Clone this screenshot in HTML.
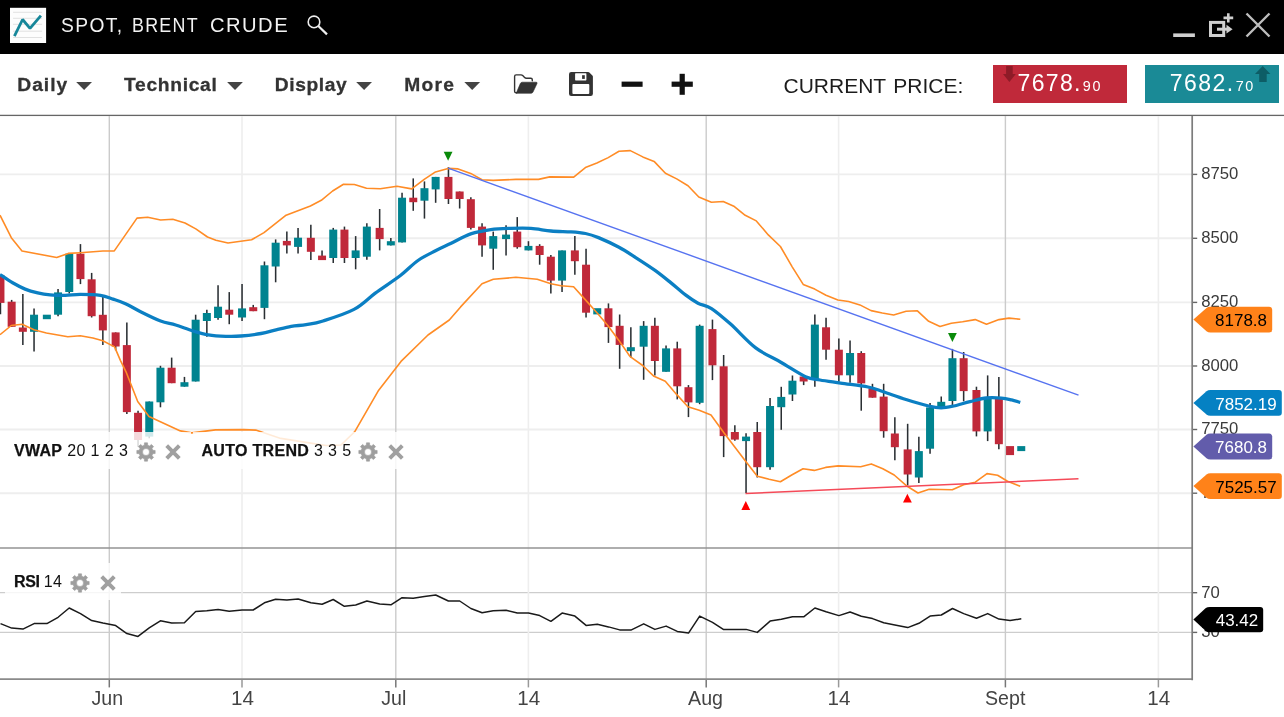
<!DOCTYPE html>
<html><head><meta charset="utf-8"><title>SPOT, BRENT CRUDE</title>
<style>
html,body{margin:0;padding:0;background:#fff;}
body{width:1284px;height:717px;overflow:hidden;position:relative;font-family:"Liberation Sans",sans-serif;}
#hdr{position:absolute;left:0;top:0;width:1284px;height:54px;background:#000;}
#title{position:absolute;left:0;top:12px;color:#f2f2f2;font-size:21px;line-height:26px;white-space:nowrap;}
#title .w{position:absolute;top:0;display:inline-block;transform-origin:0 50%;letter-spacing:1.5px;}
#tb{position:absolute;left:0;top:54px;width:1284px;height:61px;background:#fff;}
.mi{position:absolute;top:20.4px;-webkit-text-stroke:0.3px #333;font-weight:bold;font-size:19.2px;line-height:22px;color:#333;white-space:nowrap;letter-spacing:0.45px;}
#cp{position:absolute;left:783.5px;top:19px;font-size:21px;line-height:26px;letter-spacing:0;word-spacing:1.6px;color:#1c1c1c;white-space:nowrap;}
.pb{position:absolute;top:11.2px;height:37.6px;color:#fff;white-space:nowrap;}
.pb .big{position:absolute;top:2.8px;font-size:23px;line-height:30px;letter-spacing:1.35px;}
.pb .sm{font-size:14.4px;letter-spacing:1.6px;margin-left:1px;}
#chart{position:absolute;left:0;top:0;}
.ax{font:15.6px "Liberation Sans",sans-serif;fill:#3a3a3a;}
.xl{font:19.6px "Liberation Sans",sans-serif;fill:#444;}
.pl{font:15.8px "Liberation Sans",sans-serif;}
.lg{position:absolute;height:37px;background:rgba(255,255,255,0.82);font-size:16px;line-height:37px;color:#111;white-space:nowrap;}
.lg b{font-weight:bold;letter-spacing:0.3px;-webkit-text-stroke:0.25px #111;}
.lg i{font-style:normal;letter-spacing:0.4px;}
.lg span{position:absolute;top:0;}
.lg .ic{position:absolute;}
</style></head><body>
<div id="hdr">
<svg style="position:absolute;left:0;top:0" width="1284" height="54" viewBox="0 0 1284 54">
<rect x="10" y="7.800" width="36.100" height="35.200" fill="#fdfdfd"/>
<g stroke="#dedede" stroke-width="0.900"><line x1="13.100" y1="12.300" x2="42.100" y2="12.300"/><line x1="13.100" y1="18.300" x2="42.100" y2="18.300"/><line x1="13.100" y1="24.300" x2="42.100" y2="24.300"/><line x1="13.100" y1="31.200" x2="42.100" y2="31.200"/><line x1="13.100" y1="37.500" x2="42.100" y2="37.500"/></g>
<polyline points="14.400,36.200 22.600,19.500 30,28.400 40.900,15.600" fill="none" stroke="#17879a" stroke-width="2.800" stroke-linejoin="bevel"/>
<circle cx="314" cy="21.900" r="5.800" fill="none" stroke="#eee" stroke-width="1.600"/>
<line x1="318.300" y1="26" x2="327" y2="34.400" stroke="#eee" stroke-width="2.200"/>
<rect x="1173.200" y="33.400" width="21.700" height="3.600" fill="#cfcfcf"/>
<rect x="1210.500" y="22.400" width="13.200" height="13.100" fill="none" stroke="#cfcfcf" stroke-width="3"/>
<path d="M1217 29.200H1227" stroke="#cfcfcf" stroke-width="3" fill="none"/>
<polygon points="1226.500,24.800 1232.600,29.200 1226.500,33.600" fill="#cfcfcf"/>
<path d="M1223.500 17.900H1233.200M1228.300 13.200V22.600" stroke="#cfcfcf" stroke-width="2.600" fill="none"/>
<path d="M1246.500 13.500L1269.500 36.500M1269.500 13.500L1246.500 36.500" stroke="#bdbdbd" stroke-width="2.400" fill="none"/>
</svg>
<div id="title"><span class="w" style="left:61.300px;transform:scaleX(0.915)">SPOT,</span> <span class="w" style="left:132.300px;transform:scaleX(0.850)">BRENT</span> <span class="w" style="left:209.600px;transform:scaleX(0.962)">CRUDE</span></div>
</div>
<div id="tb">
<div class="mi" style="left:17.300px;letter-spacing:1px">Daily</div>
<div class="mi" style="left:124px;letter-spacing:0.720px">Technical</div>
<div class="mi" style="left:274.800px;letter-spacing:0.620px">Display</div>
<div class="mi" style="left:404.300px;letter-spacing:1.250px">More</div>
<svg style="position:absolute;left:0;top:0" width="760" height="61" viewBox="0 54 760 61">
<path d="M516.800 92.700Q514.600 93.200 514.600 91V76.400Q514.600 74.900 516.100 74.900H521Q522 74.900 522.700 75.600L524.600 77.500Q525.300 78.200 526.300 78.200H530.800Q532.300 78.200 532.300 79.700V80.800" fill="none" stroke="#333" stroke-width="1.400" stroke-linecap="round"/>
<path d="M516.200 93.300L520.300 83.600Q520.900 82.200 522.400 82.200H536Q537.600 82.200 537 83.600L533 92Q532.400 93.300 531 93.300Z" fill="#333" stroke="#333" stroke-width="0.600" stroke-linejoin="round"/>
<path d="M569 74.300Q569 72.100 571.200 72.100H588.200Q588.900 72.100 589.400 72.600L592.400 75.600Q592.900 76.100 592.900 76.800V93.800Q592.900 96 590.700 96H571.200Q569 96 569 93.800Z" fill="#333"/>
<rect x="572.400" y="84.100" width="16.900" height="9.800" rx="1" fill="#fff"/>
<rect x="575.100" y="73.200" width="11.300" height="7.200" rx="0.600" fill="#fff"/>
<rect x="582.100" y="75.200" width="2.700" height="3.700" fill="#333"/>
<polygon points="76.2,82 92.0,82 84.1,90" fill="#444"/><polygon points="227.1,82 242.9,82 235.0,90" fill="#444"/><polygon points="356.2,82 372.0,82 364.1,90" fill="#444"/><polygon points="464.3,82 480.1,82 472.2,90" fill="#444"/>
<rect x="621.600" y="81.600" width="21" height="5.200" fill="#111"/>
<rect x="671.600" y="81.600" width="21.200" height="5.200" fill="#111"/>
<rect x="679.600" y="73.800" width="5.200" height="21" fill="#111"/>
</svg>
<div id="cp">CURRENT PRICE:</div>
<div class="pb" style="left:993px;width:133.700px;background:#c0293a">
<svg style="position:absolute;left:9.700px;top:0.600px" width="13" height="16" viewBox="0 0 13 16"><path d="M3.100 0H9.700V8H12.800L6.400 15.900L0 8H3.100Z" fill="#8e1b27"/></svg>
<span class="big" style="left:24.500px">7678.<span class="sm">90</span></span></div>
<div class="pb" style="left:1145.200px;width:134px;background:#1a8a96">
<svg style="position:absolute;left:110.300px;top:0.600px" width="16" height="16" viewBox="0 0 16 16"><path d="M7.700 0L15.400 7.900H11.700V15.900H4.200V7.900H0Z" fill="#0d5d66"/></svg>
<span class="big" style="left:24.500px;letter-spacing:1.5px">7682.<span class="sm">70</span></span></div>
</div>
<svg id="chart" width="1284" height="717" viewBox="0 0 1284 717">
<rect x="0" y="114.75" width="1284" height="1.3" fill="#666"/>
<g>
</g>
<line x1="0" y1="174.4" x2="1192" y2="174.4" stroke="#eeeeee" stroke-width="1.9"/>
<line x1="0" y1="238.3" x2="1192" y2="238.3" stroke="#eeeeee" stroke-width="1.9"/>
<line x1="0" y1="302.4" x2="1192" y2="302.4" stroke="#eeeeee" stroke-width="1.9"/>
<line x1="0" y1="366.0" x2="1192" y2="366.0" stroke="#eeeeee" stroke-width="1.9"/>
<line x1="0" y1="429.5" x2="1192" y2="429.5" stroke="#eeeeee" stroke-width="1.9"/>
<line x1="0" y1="493.2" x2="1192" y2="493.2" stroke="#eeeeee" stroke-width="1.9"/>
<line x1="0" y1="592.7" x2="1192" y2="592.7" stroke="#cdcdcd" stroke-width="1.2"/>
<line x1="0" y1="632.4" x2="1192" y2="632.4" stroke="#cdcdcd" stroke-width="1.2"/>
<line x1="109.3" y1="116" x2="109.3" y2="680" stroke="#cbcbcb" stroke-width="1.4"/>
<line x1="395.8" y1="116" x2="395.8" y2="680" stroke="#cbcbcb" stroke-width="1.4"/>
<line x1="706.2" y1="116" x2="706.2" y2="680" stroke="#cbcbcb" stroke-width="1.4"/>
<line x1="1005.4" y1="116" x2="1005.4" y2="680" stroke="#cbcbcb" stroke-width="1.4"/>
<line x1="242" y1="116" x2="242" y2="680" stroke="#eeeeee" stroke-width="1.6"/>
<line x1="528.4" y1="116" x2="528.4" y2="680" stroke="#eeeeee" stroke-width="1.6"/>
<line x1="838.6" y1="116" x2="838.6" y2="680" stroke="#eeeeee" stroke-width="1.6"/>
<line x1="1158.4" y1="116" x2="1158.4" y2="680" stroke="#eeeeee" stroke-width="1.6"/>
<line x1="0.45" y1="275.3" x2="0.45" y2="314.2" stroke="#2a2f33" stroke-width="1.55"/>
<rect x="-3.55" y="275.3" width="8" height="27.6" fill="#c0293a"/>
<line x1="11.65" y1="299.9" x2="11.65" y2="327.0" stroke="#2a2f33" stroke-width="1.55"/>
<rect x="7.65" y="301.7" width="8" height="25.1" fill="#c0293a"/>
<line x1="22.85" y1="294.1" x2="22.85" y2="345.1" stroke="#2a2f33" stroke-width="1.55"/>
<rect x="18.85" y="327.5" width="8" height="4.3" fill="#c0293a"/>
<line x1="34.05" y1="308.4" x2="34.05" y2="351.4" stroke="#2a2f33" stroke-width="1.55"/>
<rect x="30.05" y="314.7" width="8" height="17.1" fill="#00838f"/>
<rect x="42.85" y="314.7" width="8" height="4.5" fill="#00838f"/>
<line x1="58.05" y1="289.1" x2="58.05" y2="316.2" stroke="#2a2f33" stroke-width="1.55"/>
<rect x="54.05" y="292.4" width="8" height="22.3" fill="#00838f"/>
<line x1="69.25" y1="253.7" x2="69.25" y2="293.5" stroke="#2a2f33" stroke-width="1.55"/>
<rect x="65.25" y="253.7" width="8" height="38.3" fill="#00838f"/>
<line x1="80.45" y1="244.1" x2="80.45" y2="284.1" stroke="#2a2f33" stroke-width="1.55"/>
<rect x="76.45" y="253.7" width="8" height="25.4" fill="#c0293a"/>
<line x1="91.65" y1="272.9" x2="91.65" y2="317.5" stroke="#2a2f33" stroke-width="1.55"/>
<rect x="87.65" y="279.3" width="8" height="36.9" fill="#c0293a"/>
<line x1="102.85" y1="296.3" x2="102.85" y2="345.1" stroke="#2a2f33" stroke-width="1.55"/>
<rect x="98.85" y="314.8" width="8" height="15.6" fill="#c0293a"/>
<line x1="115.65" y1="332.4" x2="115.65" y2="350.3" stroke="#2a2f33" stroke-width="1.55"/>
<rect x="111.65" y="332.4" width="8" height="14.1" fill="#c0293a"/>
<line x1="126.85" y1="322.4" x2="126.85" y2="414.0" stroke="#2a2f33" stroke-width="1.55"/>
<rect x="122.85" y="345.1" width="8" height="67.0" fill="#c0293a"/>
<line x1="138.05" y1="410.8" x2="138.05" y2="446.7" stroke="#2a2f33" stroke-width="1.55"/>
<rect x="134.05" y="412.8" width="8" height="27.2" fill="#c0293a"/>
<line x1="149.25" y1="401.5" x2="149.25" y2="438.3" stroke="#2a2f33" stroke-width="1.55"/>
<rect x="145.25" y="401.5" width="8" height="35.1" fill="#00838f"/>
<line x1="160.45" y1="365.8" x2="160.45" y2="407.3" stroke="#2a2f33" stroke-width="1.55"/>
<rect x="156.45" y="367.7" width="8" height="34.6" fill="#00838f"/>
<line x1="171.65" y1="357.6" x2="171.65" y2="383.2" stroke="#2a2f33" stroke-width="1.55"/>
<rect x="167.65" y="367.7" width="8" height="15.5" fill="#c0293a"/>
<line x1="184.45" y1="376.9" x2="184.45" y2="386.7" stroke="#2a2f33" stroke-width="1.55"/>
<rect x="180.45" y="382.2" width="8" height="4.5" fill="#00838f"/>
<line x1="195.65" y1="314.7" x2="195.65" y2="381.5" stroke="#2a2f33" stroke-width="1.55"/>
<rect x="191.65" y="319.7" width="8" height="61.8" fill="#00838f"/>
<line x1="206.85" y1="309.7" x2="206.85" y2="336.8" stroke="#2a2f33" stroke-width="1.55"/>
<rect x="202.85" y="313.0" width="8" height="8.0" fill="#00838f"/>
<line x1="218.05" y1="285.3" x2="218.05" y2="319.7" stroke="#2a2f33" stroke-width="1.55"/>
<rect x="214.05" y="306.7" width="8" height="11.3" fill="#00838f"/>
<line x1="229.25" y1="292.1" x2="229.25" y2="324.2" stroke="#2a2f33" stroke-width="1.55"/>
<rect x="225.25" y="309.7" width="8" height="5.0" fill="#c0293a"/>
<line x1="242.05" y1="284.1" x2="242.05" y2="321.0" stroke="#2a2f33" stroke-width="1.55"/>
<rect x="238.05" y="308.4" width="8" height="9.1" fill="#00838f"/>
<line x1="253.25" y1="304.9" x2="253.25" y2="311.2" stroke="#2a2f33" stroke-width="1.55"/>
<rect x="249.25" y="307.2" width="8" height="4.0" fill="#c0293a"/>
<line x1="264.45" y1="261.5" x2="264.45" y2="319.2" stroke="#2a2f33" stroke-width="1.55"/>
<rect x="260.45" y="265.3" width="8" height="42.6" fill="#00838f"/>
<line x1="275.65" y1="239.4" x2="275.65" y2="282.3" stroke="#2a2f33" stroke-width="1.55"/>
<rect x="271.65" y="242.7" width="8" height="23.8" fill="#00838f"/>
<line x1="286.85" y1="231.4" x2="286.85" y2="253.5" stroke="#2a2f33" stroke-width="1.55"/>
<rect x="282.85" y="240.9" width="8" height="4.5" fill="#c0293a"/>
<line x1="298.05" y1="228.1" x2="298.05" y2="253.5" stroke="#2a2f33" stroke-width="1.55"/>
<rect x="294.05" y="237.7" width="8" height="9.2" fill="#00838f"/>
<line x1="310.85" y1="224.7" x2="310.85" y2="260.1" stroke="#2a2f33" stroke-width="1.55"/>
<rect x="306.85" y="237.8" width="8" height="14.0" fill="#c0293a"/>
<line x1="322.05" y1="250.4" x2="322.05" y2="260.1" stroke="#2a2f33" stroke-width="1.55"/>
<rect x="318.05" y="255.6" width="8" height="4.5" fill="#c0293a"/>
<line x1="333.25" y1="227.9" x2="333.25" y2="263.0" stroke="#2a2f33" stroke-width="1.55"/>
<rect x="329.25" y="229.6" width="8" height="28.4" fill="#00838f"/>
<line x1="344.45" y1="226.6" x2="344.45" y2="263.0" stroke="#2a2f33" stroke-width="1.55"/>
<rect x="340.45" y="229.6" width="8" height="28.4" fill="#c0293a"/>
<line x1="355.65" y1="236.1" x2="355.65" y2="269.3" stroke="#2a2f33" stroke-width="1.55"/>
<rect x="351.65" y="250.4" width="8" height="7.6" fill="#00838f"/>
<line x1="366.85" y1="223.3" x2="366.85" y2="259.7" stroke="#2a2f33" stroke-width="1.55"/>
<rect x="362.85" y="226.6" width="8" height="30.1" fill="#00838f"/>
<line x1="379.65" y1="209.0" x2="379.65" y2="250.4" stroke="#2a2f33" stroke-width="1.55"/>
<rect x="375.65" y="227.9" width="8" height="11.2" fill="#c0293a"/>
<line x1="390.85" y1="237.9" x2="390.85" y2="245.4" stroke="#2a2f33" stroke-width="1.55"/>
<rect x="386.85" y="241.2" width="8" height="4.2" fill="#00838f"/>
<line x1="402.05" y1="192.7" x2="402.05" y2="242.4" stroke="#2a2f33" stroke-width="1.55"/>
<rect x="398.05" y="197.7" width="8" height="44.7" fill="#00838f"/>
<line x1="413.25" y1="178.4" x2="413.25" y2="210.8" stroke="#2a2f33" stroke-width="1.55"/>
<rect x="409.25" y="197.7" width="8" height="4.5" fill="#c0293a"/>
<line x1="424.45" y1="181.4" x2="424.45" y2="218.6" stroke="#2a2f33" stroke-width="1.55"/>
<rect x="420.45" y="188.2" width="8" height="12.5" fill="#00838f"/>
<line x1="435.65" y1="176.9" x2="435.65" y2="202.8" stroke="#2a2f33" stroke-width="1.55"/>
<rect x="431.65" y="176.9" width="8" height="12.5" fill="#00838f"/>
<line x1="448.45" y1="167.1" x2="448.45" y2="204.0" stroke="#2a2f33" stroke-width="1.55"/>
<rect x="444.45" y="176.9" width="8" height="22.1" fill="#c0293a"/>
<line x1="459.65" y1="191.5" x2="459.65" y2="208.5" stroke="#2a2f33" stroke-width="1.55"/>
<rect x="455.65" y="191.5" width="8" height="7.5" fill="#c0293a"/>
<line x1="470.85" y1="197.2" x2="470.85" y2="229.6" stroke="#2a2f33" stroke-width="1.55"/>
<rect x="466.85" y="199.2" width="8" height="28.7" fill="#c0293a"/>
<line x1="482.05" y1="223.3" x2="482.05" y2="256.7" stroke="#2a2f33" stroke-width="1.55"/>
<rect x="478.05" y="226.6" width="8" height="18.8" fill="#c0293a"/>
<line x1="493.25" y1="231.6" x2="493.25" y2="269.8" stroke="#2a2f33" stroke-width="1.55"/>
<rect x="489.25" y="236.1" width="8" height="12.6" fill="#00838f"/>
<line x1="506.05" y1="225.3" x2="506.05" y2="255.5" stroke="#2a2f33" stroke-width="1.55"/>
<rect x="502.05" y="234.6" width="8" height="4.5" fill="#00838f"/>
<line x1="517.25" y1="217.1" x2="517.25" y2="248.7" stroke="#2a2f33" stroke-width="1.55"/>
<rect x="513.25" y="231.6" width="8" height="15.6" fill="#c0293a"/>
<line x1="528.45" y1="241.2" x2="528.45" y2="250.4" stroke="#2a2f33" stroke-width="1.55"/>
<rect x="524.45" y="245.9" width="8" height="4.5" fill="#00838f"/>
<line x1="539.65" y1="244.2" x2="539.65" y2="264.7" stroke="#2a2f33" stroke-width="1.55"/>
<rect x="535.65" y="245.9" width="8" height="9.1" fill="#c0293a"/>
<line x1="550.85" y1="255.0" x2="550.85" y2="293.6" stroke="#2a2f33" stroke-width="1.55"/>
<rect x="546.85" y="256.7" width="8" height="23.9" fill="#c0293a"/>
<line x1="562.05" y1="250.4" x2="562.05" y2="291.9" stroke="#2a2f33" stroke-width="1.55"/>
<rect x="558.05" y="250.4" width="8" height="30.2" fill="#00838f"/>
<line x1="574.85" y1="236.1" x2="574.85" y2="274.8" stroke="#2a2f33" stroke-width="1.55"/>
<rect x="570.85" y="250.4" width="8" height="10.8" fill="#c0293a"/>
<line x1="586.05" y1="248.7" x2="586.05" y2="317.5" stroke="#2a2f33" stroke-width="1.55"/>
<rect x="582.05" y="264.7" width="8" height="48.0" fill="#c0293a"/>
<rect x="593.25" y="308.2" width="8" height="6.2" fill="#00838f"/>
<line x1="608.45" y1="303.4" x2="608.45" y2="342.9" stroke="#2a2f33" stroke-width="1.55"/>
<rect x="604.45" y="308.3" width="8" height="18.8" fill="#c0293a"/>
<line x1="619.65" y1="314.5" x2="619.65" y2="368.8" stroke="#2a2f33" stroke-width="1.55"/>
<rect x="615.65" y="325.8" width="8" height="19.1" fill="#c0293a"/>
<line x1="630.85" y1="327.3" x2="630.85" y2="357.5" stroke="#2a2f33" stroke-width="1.55"/>
<rect x="626.85" y="347.2" width="8" height="4.0" fill="#00838f"/>
<line x1="643.65" y1="321.1" x2="643.65" y2="379.8" stroke="#2a2f33" stroke-width="1.55"/>
<rect x="639.65" y="325.8" width="8" height="20.9" fill="#00838f"/>
<line x1="654.85" y1="317.8" x2="654.85" y2="375.5" stroke="#2a2f33" stroke-width="1.55"/>
<rect x="650.85" y="325.8" width="8" height="35.2" fill="#c0293a"/>
<line x1="666.05" y1="345.4" x2="666.05" y2="371.8" stroke="#2a2f33" stroke-width="1.55"/>
<rect x="662.05" y="348.4" width="8" height="23.4" fill="#00838f"/>
<line x1="677.25" y1="341.7" x2="677.25" y2="399.4" stroke="#2a2f33" stroke-width="1.55"/>
<rect x="673.25" y="348.4" width="8" height="37.9" fill="#c0293a"/>
<line x1="688.45" y1="385.1" x2="688.45" y2="417.1" stroke="#2a2f33" stroke-width="1.55"/>
<rect x="684.45" y="387.2" width="8" height="15.2" fill="#c0293a"/>
<line x1="699.65" y1="324.6" x2="699.65" y2="404.2" stroke="#2a2f33" stroke-width="1.55"/>
<rect x="695.65" y="325.8" width="8" height="77.0" fill="#00838f"/>
<line x1="712.45" y1="319.6" x2="712.45" y2="380.1" stroke="#2a2f33" stroke-width="1.55"/>
<rect x="708.45" y="329.1" width="8" height="36.2" fill="#c0293a"/>
<line x1="723.65" y1="355.0" x2="723.65" y2="457.1" stroke="#2a2f33" stroke-width="1.55"/>
<rect x="719.65" y="366.3" width="8" height="69.8" fill="#c0293a"/>
<line x1="734.85" y1="425.3" x2="734.85" y2="440.8" stroke="#2a2f33" stroke-width="1.55"/>
<rect x="730.85" y="432.0" width="8" height="7.6" fill="#c0293a"/>
<line x1="746.05" y1="433.3" x2="746.05" y2="493.0" stroke="#2a2f33" stroke-width="1.55"/>
<rect x="742.05" y="436.6" width="8" height="4.5" fill="#00838f"/>
<line x1="757.25" y1="422.0" x2="757.25" y2="477.5" stroke="#2a2f33" stroke-width="1.55"/>
<rect x="753.25" y="432.0" width="8" height="35.2" fill="#c0293a"/>
<line x1="770.05" y1="397.9" x2="770.05" y2="469.7" stroke="#2a2f33" stroke-width="1.55"/>
<rect x="766.05" y="406.0" width="8" height="61.2" fill="#00838f"/>
<line x1="781.25" y1="386.8" x2="781.25" y2="429.8" stroke="#2a2f33" stroke-width="1.55"/>
<rect x="777.25" y="396.9" width="8" height="10.3" fill="#00838f"/>
<line x1="792.45" y1="375.5" x2="792.45" y2="401.0" stroke="#2a2f33" stroke-width="1.55"/>
<rect x="788.45" y="380.7" width="8" height="13.8" fill="#00838f"/>
<line x1="803.65" y1="375.0" x2="803.65" y2="385.1" stroke="#2a2f33" stroke-width="1.55"/>
<rect x="799.65" y="376.5" width="8" height="5.0" fill="#c0293a"/>
<line x1="814.85" y1="314.5" x2="814.85" y2="386.8" stroke="#2a2f33" stroke-width="1.55"/>
<rect x="810.85" y="324.6" width="8" height="54.7" fill="#00838f"/>
<line x1="826.05" y1="317.8" x2="826.05" y2="359.7" stroke="#2a2f33" stroke-width="1.55"/>
<rect x="822.05" y="327.3" width="8" height="22.4" fill="#c0293a"/>
<line x1="838.85" y1="338.6" x2="838.85" y2="381.8" stroke="#2a2f33" stroke-width="1.55"/>
<rect x="834.85" y="349.7" width="8" height="25.6" fill="#c0293a"/>
<line x1="850.05" y1="340.4" x2="850.05" y2="382.8" stroke="#2a2f33" stroke-width="1.55"/>
<rect x="846.05" y="353.0" width="8" height="22.3" fill="#00838f"/>
<line x1="861.25" y1="351.2" x2="861.25" y2="410.7" stroke="#2a2f33" stroke-width="1.55"/>
<rect x="857.25" y="353.0" width="8" height="30.4" fill="#c0293a"/>
<line x1="872.45" y1="383.8" x2="872.45" y2="397.7" stroke="#2a2f33" stroke-width="1.55"/>
<rect x="868.45" y="388.5" width="8" height="9.2" fill="#c0293a"/>
<line x1="883.65" y1="383.8" x2="883.65" y2="437.7" stroke="#2a2f33" stroke-width="1.55"/>
<rect x="879.65" y="396.6" width="8" height="34.6" fill="#c0293a"/>
<line x1="894.85" y1="417.2" x2="894.85" y2="460.2" stroke="#2a2f33" stroke-width="1.55"/>
<rect x="890.85" y="433.5" width="8" height="13.7" fill="#c0293a"/>
<line x1="907.65" y1="423.8" x2="907.65" y2="485.5" stroke="#2a2f33" stroke-width="1.55"/>
<rect x="903.65" y="449.4" width="8" height="25.1" fill="#c0293a"/>
<line x1="918.85" y1="436.7" x2="918.85" y2="483.0" stroke="#2a2f33" stroke-width="1.55"/>
<rect x="914.85" y="451.1" width="8" height="26.4" fill="#00838f"/>
<line x1="930.05" y1="403.0" x2="930.05" y2="453.8" stroke="#2a2f33" stroke-width="1.55"/>
<rect x="926.05" y="407.4" width="8" height="41.3" fill="#00838f"/>
<line x1="941.25" y1="396.5" x2="941.25" y2="407.2" stroke="#2a2f33" stroke-width="1.55"/>
<rect x="937.25" y="401.8" width="8" height="5.4" fill="#00838f"/>
<line x1="952.45" y1="348.9" x2="952.45" y2="405.0" stroke="#2a2f33" stroke-width="1.55"/>
<rect x="948.45" y="358.2" width="8" height="42.8" fill="#00838f"/>
<line x1="963.65" y1="352.0" x2="963.65" y2="401.3" stroke="#2a2f33" stroke-width="1.55"/>
<rect x="959.65" y="358.2" width="8" height="32.9" fill="#c0293a"/>
<line x1="976.45" y1="386.7" x2="976.45" y2="436.4" stroke="#2a2f33" stroke-width="1.55"/>
<rect x="972.45" y="390.0" width="8" height="41.4" fill="#c0293a"/>
<line x1="987.65" y1="375.4" x2="987.65" y2="441.1" stroke="#2a2f33" stroke-width="1.55"/>
<rect x="983.65" y="397.1" width="8" height="34.3" fill="#00838f"/>
<line x1="998.85" y1="377.1" x2="998.85" y2="449.2" stroke="#2a2f33" stroke-width="1.55"/>
<rect x="994.85" y="397.1" width="8" height="47.1" fill="#c0293a"/>
<rect x="1006.05" y="446.1" width="8" height="9.0" fill="#c0293a"/>
<rect x="1017.25" y="446.1" width="8" height="5.0" fill="#00838f"/>
<polyline points="0.0,215.2 11.3,237.7 22.0,251.0 56.7,257.5 68.2,253.4 80.3,252.7 102.9,251.0 114.3,250.9 137.0,218.1 147.7,217.3 160.6,220.0 172.8,219.3 185.0,223.0 195.8,228.9 207.5,237.0 215.9,240.2 228.0,243.0 251.6,239.8 264.0,232.6 286.1,215.2 310.4,206.0 321.3,200.3 332.6,191.0 343.5,184.3 354.4,184.5 366.5,188.2 380.3,188.7 397.0,186.3 411.7,188.9 424.2,179.4 435.5,171.9 448.1,168.4 458.1,168.9 470.7,173.4 482.0,179.7 493.3,180.4 515.9,179.4 538.5,179.4 549.7,176.9 573.7,177.1 585.4,167.6 596.9,163.0 608.2,157.6 619.0,151.3 630.3,150.6 642.8,156.9 654.1,161.4 665.4,173.2 676.7,178.9 688.0,185.7 698.8,197.0 711.4,202.3 723.2,201.5 734.4,206.6 745.2,215.3 756.3,220.9 768.3,234.9 780.4,246.5 792.2,266.8 803.2,284.4 814.7,289.1 826.0,295.2 837.9,300.0 848.6,301.5 859.9,304.9 871.1,310.6 882.3,313.0 893.6,315.0 906.1,311.3 917.4,310.8 928.7,321.3 940.0,326.4 951.3,323.3 962.6,321.8 975.2,319.6 986.5,324.3 999.0,319.6 1009.0,318.1 1020.3,319.3" fill="none" stroke="#ff8c26" stroke-width="1.6" stroke-linejoin="round"/>
<polyline points="0.0,334.7 11.3,325.5 22.1,324.2 33.9,329.8 46.4,333.0 67.8,336.8 80.3,335.8 92.9,338.0 102.8,340.8 114.6,346.9 120.5,360.6 126.4,372.7 137.7,401.5 149.0,416.6 180.4,430.9 191.7,432.9 215.5,429.9 243.1,429.6 255.7,430.1 280.8,438.4 305.9,442.4 326.0,445.5 341.0,445.0 354.8,431.7 378.7,390.2 401.0,361.4 428.0,335.0 449.3,320.0 460.6,306.9 482.0,283.8 493.3,279.3 515.9,277.3 537.2,279.3 551.0,283.8 561.0,285.8 573.6,286.8 586.1,300.6 597.4,313.2 607.6,325.3 618.9,340.4 630.2,356.7 642.7,365.5 654.0,376.3 665.3,381.3 676.6,394.4 687.9,406.7 699.2,410.2 711.0,415.0 723.9,432.8 746.0,461.7 757.3,476.2 769.1,479.2 780.4,481.7 791.7,475.0 803.0,468.7 814.3,470.4 825.6,467.4 838.1,465.9 860.7,466.7 871.3,463.9 882.8,468.7 894.2,475.0 907.2,486.3 918.0,493.0 929.2,489.3 952.3,489.8 963.6,484.7 975.3,482.2 987.0,473.6 997.6,475.3 1007.5,481.2 1020.2,486.2" fill="none" stroke="#ff8c26" stroke-width="1.6" stroke-linejoin="round"/>
<path d="M0.0,274.5 C2.1,275.9 8.4,280.4 12.6,282.8 C16.8,285.2 20.9,287.4 25.1,289.1 C29.3,290.8 33.5,291.9 37.7,292.9 C41.9,293.9 45.6,294.5 50.2,294.9 C54.8,295.3 60.3,295.5 65.3,295.4 C70.3,295.3 74.4,294.4 80.3,294.4 C86.2,294.4 95.0,294.6 100.4,295.4 C105.9,296.2 108.8,297.7 113.0,299.1 C117.2,300.5 120.9,301.6 125.5,303.7 C130.1,305.8 134.8,308.8 140.6,311.7 C146.4,314.6 154.8,318.8 160.6,321.0 C166.4,323.2 170.2,323.3 175.7,325.0 C181.1,326.7 187.9,329.4 193.3,331.0 C198.7,332.6 202.9,333.9 208.3,334.8 C213.7,335.7 220.5,336.1 225.9,336.3 C231.3,336.5 235.2,336.5 241.0,336.0 C246.8,335.5 255.2,334.5 261.0,333.5 C266.9,332.5 271.1,331.0 276.1,329.8 C281.1,328.6 286.2,327.2 291.2,326.3 C296.2,325.4 300.9,325.6 306.2,324.7 C311.5,323.8 315.0,323.6 323.0,321.0 C331.0,318.4 345.3,314.0 354.0,309.4 C362.7,304.8 367.6,298.8 375.3,293.1 C383.0,287.5 393.3,280.9 400.4,275.5 C407.5,270.1 412.1,264.6 418.0,260.5 C423.9,256.4 430.1,253.6 435.5,250.8 C440.9,248.0 444.7,246.4 450.6,243.6 C456.5,240.8 464.0,236.2 470.7,233.9 C477.4,231.6 484.1,230.5 490.8,229.6 C497.5,228.7 504.1,228.6 510.8,228.4 C517.5,228.2 524.2,228.0 530.9,228.4 C537.6,228.8 544.3,230.4 551.0,231.0 C557.7,231.6 565.4,231.5 571.1,231.9 C576.9,232.3 580.9,232.6 585.5,233.5 C590.1,234.4 592.9,235.3 598.5,237.6 C604.1,239.9 612.9,244.0 619.0,247.3 C625.1,250.6 629.2,253.4 635.3,257.3 C641.4,261.2 649.5,266.4 655.4,270.6 C661.2,274.8 665.4,278.3 670.4,282.4 C675.4,286.4 680.9,291.4 685.5,294.9 C690.1,298.4 693.7,300.9 698.0,303.2 C702.3,305.5 706.1,305.1 711.5,308.6 C716.9,312.1 723.2,317.6 730.6,324.1 C738.0,330.7 747.3,341.5 755.7,347.9 C764.1,354.2 772.5,357.4 780.8,362.2 C789.1,367.0 799.0,373.7 805.5,376.7 C812.0,379.7 814.1,378.9 820.0,380.0 C825.9,381.1 832.6,381.9 840.6,383.1 C848.6,384.3 860.9,385.6 868.0,387.0 C875.1,388.4 877.1,389.7 883.4,391.8 C889.7,393.9 898.5,397.1 906.0,399.5 C913.5,401.9 922.7,404.6 928.6,406.0 C934.5,407.4 937.0,407.8 941.2,407.8 C945.4,407.8 948.9,407.0 953.7,406.0 C958.5,405.0 964.5,402.9 970.0,401.6 C975.5,400.3 981.1,398.6 986.4,398.0 C991.6,397.4 997.3,397.8 1001.5,398.1 C1005.7,398.4 1008.5,399.2 1011.6,399.9 C1014.7,400.6 1018.8,402.0 1020.3,402.4" fill="none" stroke="#0b7fc3" stroke-width="3.3" stroke-linecap="butt" stroke-linejoin="round"/>
<line x1="448.1" y1="168.1" x2="1078.5" y2="395.2" stroke="#5773f0" stroke-width="1.4"/>
<line x1="745.5" y1="493.5" x2="1078.5" y2="478.8" stroke="#f54a58" stroke-width="1.5"/>
<polygon points="443.7,151.8 452.5,151.8 448.1,160.8" fill="#0a8a0a"/>
<polygon points="948.0,333.1 956.8,333.1 952.4,341.9" fill="#0a8a0a"/>
<polygon points="741.4,509.9 750.2,509.9 745.8,501.1" fill="#ff0000"/>
<polygon points="903.0,502.6 911.8,502.6 907.4,493.8" fill="#ff0000"/>
<polyline points="0.5,623.6 11.7,628.1 22.9,629.1 34.1,623.6 46.9,623.6 58.1,617.3 69.2,608.0 80.5,613.6 91.7,620.6 102.9,623.1 115.7,625.6 126.9,633.6 138.0,636.4 149.2,627.9 160.4,620.8 171.7,623.1 184.4,622.8 195.7,611.5 206.8,610.8 218.1,609.5 229.2,611.3 242.1,610.0 253.2,610.0 264.4,602.8 275.6,599.2 286.9,600.0 298.1,599.0 310.9,602.8 322.1,604.3 333.2,599.5 344.4,606.3 355.7,605.0 366.9,601.0 379.7,604.0 390.9,604.8 402.1,597.7 413.2,598.2 424.4,596.5 435.7,595.0 448.4,601.0 459.7,601.0 470.9,608.5 482.1,612.8 493.2,610.8 506.1,610.3 517.3,613.1 528.5,613.1 539.7,615.6 550.9,621.3 562.1,613.1 574.9,616.1 586.1,625.4 597.3,624.3 608.5,626.9 619.7,629.9 630.9,630.1 643.7,623.8 654.9,629.4 666.1,626.1 677.3,631.4 688.5,633.1 699.7,616.1 712.5,622.3 723.7,629.6 734.9,629.6 746.1,629.4 757.3,632.4 770.1,621.1 781.3,619.3 792.5,616.8 803.7,616.8 814.9,608.0 826.1,611.8 838.9,615.6 850.1,612.0 861.3,616.3 872.5,618.6 883.7,622.8 894.9,624.9 907.7,627.6 918.9,623.3 930.1,616.1 941.3,615.0 952.5,608.5 963.7,613.6 976.5,618.3 987.7,613.6 998.9,619.1 1010.1,620.6 1021.3,618.8" fill="none" stroke="#1a1a1a" stroke-width="1.5" stroke-linejoin="round"/>
<line x1="0" y1="548" x2="1193" y2="548" stroke="#939393" stroke-width="1.6"/>
<line x1="0" y1="679.1" x2="1193" y2="679.1" stroke="#8a8a8a" stroke-width="1.9"/>
<line x1="1192.2" y1="116" x2="1192.2" y2="680.3" stroke="#7c7c7c" stroke-width="1.7"/>
<line x1="1193" y1="174.4" x2="1197.2" y2="174.4" stroke="#666" stroke-width="1.4"/>
<text transform="translate(1201.3,179.3) scale(1.07,1)" class="ax">8750</text>
<line x1="1193" y1="238.3" x2="1197.2" y2="238.3" stroke="#666" stroke-width="1.4"/>
<text transform="translate(1201.3,243.2) scale(1.07,1)" class="ax">8500</text>
<line x1="1193" y1="302.4" x2="1197.2" y2="302.4" stroke="#666" stroke-width="1.4"/>
<text transform="translate(1201.3,307.3) scale(1.07,1)" class="ax">8250</text>
<line x1="1193" y1="366.0" x2="1197.2" y2="366.0" stroke="#666" stroke-width="1.4"/>
<text transform="translate(1201.3,370.9) scale(1.07,1)" class="ax">8000</text>
<line x1="1193" y1="429.5" x2="1197.2" y2="429.5" stroke="#666" stroke-width="1.4"/>
<text transform="translate(1201.3,434.4) scale(1.07,1)" class="ax">7750</text>
<line x1="1193" y1="493.2" x2="1197.2" y2="493.2" stroke="#666" stroke-width="1.4"/>
<text transform="translate(1201.3,498.1) scale(1.07,1)" class="ax">7500</text>
<line x1="1193" y1="592.7" x2="1197.2" y2="592.7" stroke="#666" stroke-width="1.4"/>
<text transform="translate(1201.3,597.6) scale(1.07,1)" class="ax">70</text>
<line x1="1193" y1="632.4" x2="1197.2" y2="632.4" stroke="#666" stroke-width="1.4"/>
<text transform="translate(1201.3,637.3) scale(1.07,1)" class="ax">30</text>
<line x1="109.3" y1="680" x2="109.3" y2="687.4" stroke="#777" stroke-width="1.5"/>
<line x1="395.8" y1="680" x2="395.8" y2="687.4" stroke="#777" stroke-width="1.5"/>
<line x1="706.2" y1="680" x2="706.2" y2="687.4" stroke="#777" stroke-width="1.5"/>
<line x1="1005.4" y1="680" x2="1005.4" y2="687.4" stroke="#777" stroke-width="1.5"/>
<line x1="242" y1="680" x2="242" y2="687.4" stroke="#999" stroke-width="1.5"/>
<line x1="528.4" y1="680" x2="528.4" y2="687.4" stroke="#999" stroke-width="1.5"/>
<line x1="838.6" y1="680" x2="838.6" y2="687.4" stroke="#999" stroke-width="1.5"/>
<line x1="1158.4" y1="680" x2="1158.4" y2="687.4" stroke="#999" stroke-width="1.5"/>
<text transform="translate(107.3,704.9) scale(1.0,1)" class="xl" text-anchor="middle">Jun</text>
<text transform="translate(393.8,704.9) scale(1.0,1)" class="xl" text-anchor="middle">Jul</text>
<text transform="translate(705.5,704.9) scale(1.0,1)" class="xl" text-anchor="middle">Aug</text>
<text transform="translate(1005.2,704.9) scale(1.0,1)" class="xl" text-anchor="middle">Sept</text>
<text transform="translate(242.4,704.9) scale(1.05,1)" class="xl" text-anchor="middle">14</text>
<text transform="translate(528.8,704.9) scale(1.05,1)" class="xl" text-anchor="middle">14</text>
<text transform="translate(839.0,704.9) scale(1.05,1)" class="xl" text-anchor="middle">14</text>
<text transform="translate(1158.8,704.9) scale(1.05,1)" class="xl" text-anchor="middle">14</text>
<path d="M1193.4,319.6 L1206.5,307.90000000000003 Q1208.0,306.70000000000005 1210.5,306.70000000000005 L1269.2,306.70000000000005 Q1272.2,306.70000000000005 1272.2,309.70000000000005 L1272.2,329.5 Q1272.2,332.5 1269.2,332.5 L1210.5,332.5 Q1208.0,332.5 1206.5,331.3 Z" fill="#ff8219"/><text transform="translate(1267.0,326.3) scale(1.075,1)" class="pl" fill="#000" text-anchor="end">8178.8</text>
<path d="M1193.4,402.9 L1206.5,391.2 Q1208.0,390.0 1210.5,390.0 L1278.8,390.0 Q1281.8,390.0 1281.8,393.0 L1281.8,412.79999999999995 Q1281.8,415.79999999999995 1278.8,415.79999999999995 L1210.5,415.79999999999995 Q1208.0,415.79999999999995 1206.5,414.59999999999997 Z" fill="#0581c3"/><text transform="translate(1276.6,409.6) scale(1.075,1)" class="pl" fill="#fff" text-anchor="end">7852.19</text>
<path d="M1193.4,446.5 L1206.5,434.8 Q1208.0,433.6 1210.5,433.6 L1269.2,433.6 Q1272.2,433.6 1272.2,436.6 L1272.2,456.4 Q1272.2,459.4 1269.2,459.4 L1210.5,459.4 Q1208.0,459.4 1206.5,458.2 Z" fill="#625cab"/><text transform="translate(1267.0,453.2) scale(1.075,1)" class="pl" fill="#fff" text-anchor="end">7680.8</text>
<path d="M1193.4,486.1 L1206.5,474.40000000000003 Q1208.0,473.20000000000005 1210.5,473.20000000000005 L1278.8,473.20000000000005 Q1281.8,473.20000000000005 1281.8,476.20000000000005 L1281.8,496.0 Q1281.8,499.0 1278.8,499.0 L1210.5,499.0 Q1208.0,499.0 1206.5,497.8 Z" fill="#ff8219"/><text transform="translate(1276.6,492.8) scale(1.075,1)" class="pl" fill="#000" text-anchor="end">7525.57</text>
<path d="M1193.4,619.6 L1205.8,608.1 Q1207.3,606.9 1209.8,606.9 L1260.2,606.9 Q1263.2,606.9 1263.2,609.9 L1263.2,629.3000000000001 Q1263.2,632.3000000000001 1260.2,632.3000000000001 L1209.8,632.3000000000001 Q1207.3,632.3000000000001 1205.8,631.1 Z" fill="#000"/><text transform="translate(1258.2,626.1) scale(1.075,1)" class="pl" fill="#fff" text-anchor="end">43.42</text>
</svg>
<div class="lg" style="left:5px;top:431.500px;width:185.500px"><span style="left:9px"><b>VWAP</b><i> 20 1 2 3</i></span><span class="ic" style="left:130.600px;top:10.200px"><svg class="ic" viewBox="0 0 20 20" width="20" height="20"><path fill="#9e9e9e" fill-rule="evenodd" stroke="#9e9e9e" stroke-width="0.6" stroke-linejoin="round" d="M8.27,3.22 L8.47,0.83 L11.53,0.83 L11.73,3.22 L13.57,3.98 L15.41,2.43 L17.57,4.59 L16.02,6.43 L16.78,8.27 L19.17,8.47 L19.17,11.53 L16.78,11.73 L16.02,13.57 L17.57,15.41 L15.41,17.57 L13.57,16.02 L11.73,16.78 L11.53,19.17 L8.47,19.17 L8.27,16.78 L6.43,16.02 L4.59,17.57 L2.43,15.41 L3.98,13.57 L3.22,11.73 L0.83,11.53 L0.83,8.47 L3.22,8.27 L3.98,6.43 L2.43,4.59 L4.59,2.43 L6.43,3.98Z M13.50,10.00 A3.5,3.5 0 1 0 6.50,10.00 A3.5,3.5 0 1 0 13.50,10.00Z"/></svg></span><span class="ic" style="left:159.900px;top:12.200px"><svg class="ic" viewBox="0 0 16 16" width="16" height="16"><path d="M1.700 1.600L14.300 14.400M14.300 1.600L1.700 14.400" stroke="#a0a0a0" stroke-width="3.900" fill="none"/></svg></span></div>
<div class="lg" style="left:193px;top:431.500px;width:221px"><span style="left:8.500px"><b>AUTO TREND</b><i> 3 3 5</i></span><span class="ic" style="left:165.400px;top:10.200px"><svg class="ic" viewBox="0 0 20 20" width="20" height="20"><path fill="#9e9e9e" fill-rule="evenodd" stroke="#9e9e9e" stroke-width="0.6" stroke-linejoin="round" d="M8.27,3.22 L8.47,0.83 L11.53,0.83 L11.73,3.22 L13.57,3.98 L15.41,2.43 L17.57,4.59 L16.02,6.43 L16.78,8.27 L19.17,8.47 L19.17,11.53 L16.78,11.73 L16.02,13.57 L17.57,15.41 L15.41,17.57 L13.57,16.02 L11.73,16.78 L11.53,19.17 L8.47,19.17 L8.27,16.78 L6.43,16.02 L4.59,17.57 L2.43,15.41 L3.98,13.57 L3.22,11.73 L0.83,11.53 L0.83,8.47 L3.22,8.27 L3.98,6.43 L2.43,4.59 L4.59,2.43 L6.43,3.98Z M13.50,10.00 A3.5,3.5 0 1 0 6.50,10.00 A3.5,3.5 0 1 0 13.50,10.00Z"/></svg></span><span class="ic" style="left:194.900px;top:12.200px"><svg class="ic" viewBox="0 0 16 16" width="16" height="16"><path d="M1.700 1.600L14.300 14.400M14.300 1.600L1.700 14.400" stroke="#a0a0a0" stroke-width="3.900" fill="none"/></svg></span></div>
<div class="lg" style="left:5px;top:562.500px;width:116px"><span style="left:9px"><b style="letter-spacing:-0.35px">RSI</b><i style="margin-left:-0.8px"> 14</i></span><span class="ic" style="left:65.200px;top:10.500px"><svg class="ic" viewBox="0 0 20 20" width="20" height="20"><path fill="#9e9e9e" fill-rule="evenodd" stroke="#9e9e9e" stroke-width="0.6" stroke-linejoin="round" d="M8.27,3.22 L8.47,0.83 L11.53,0.83 L11.73,3.22 L13.57,3.98 L15.41,2.43 L17.57,4.59 L16.02,6.43 L16.78,8.27 L19.17,8.47 L19.17,11.53 L16.78,11.73 L16.02,13.57 L17.57,15.41 L15.41,17.57 L13.57,16.02 L11.73,16.78 L11.53,19.17 L8.47,19.17 L8.27,16.78 L6.43,16.02 L4.59,17.57 L2.43,15.41 L3.98,13.57 L3.22,11.73 L0.83,11.53 L0.83,8.47 L3.22,8.27 L3.98,6.43 L2.43,4.59 L4.59,2.43 L6.43,3.98Z M13.50,10.00 A3.5,3.5 0 1 0 6.50,10.00 A3.5,3.5 0 1 0 13.50,10.00Z"/></svg></span><span class="ic" style="left:95.400px;top:12.500px"><svg class="ic" viewBox="0 0 16 16" width="16" height="16"><path d="M1.700 1.600L14.300 14.400M14.300 1.600L1.700 14.400" stroke="#a0a0a0" stroke-width="3.900" fill="none"/></svg></span></div>
</body></html>
